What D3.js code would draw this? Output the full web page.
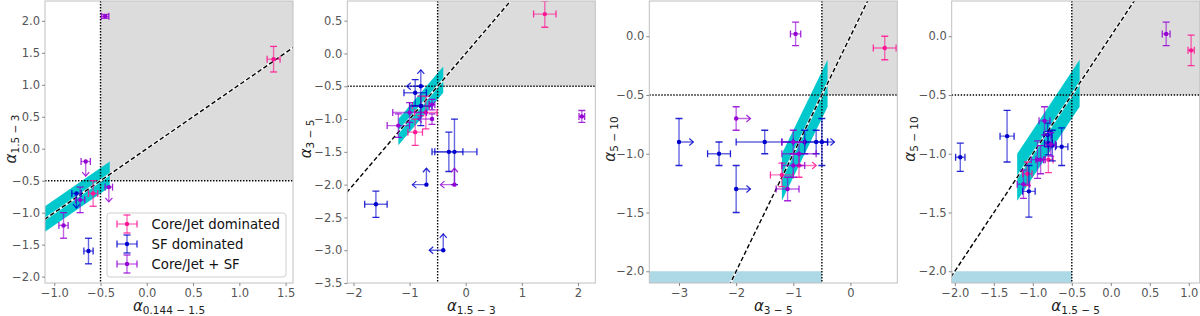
<!DOCTYPE html>
<html>
<head>
<meta charset="utf-8">
<title>spectral index colour-colour</title>
<script src="https://cdn.jsdelivr.net/npm/d3@7"></script>
<style>
  body { margin: 0; background: #fff; }
  text { font-family: 'DejaVu Sans', sans-serif; }
  .tick text { fill: #555; font-size: 11.5px; }
  .tick line { stroke: #888; }
  .domain { display: none; }
</style>
</head>
<body>
<svg id="chart" width="1200" height="316"></svg>
<script>
const groups = ['Core/Jet dominated', 'SF dominated', 'Core/Jet + SF'];
const groupColors = ['#ff1493', '#0000cd', '#9400d3'];

// rows: x, y, xerr, yerr, group, xlim, ylim  (lim 1 = lower limit arrow, -1 = upper limit arrow)
const panel1Points = [
  [1.37, 1.40, 0.07, 0.20, 0, 0, 0],
  [-0.58, -0.70, 0.05, 0.20, 0, 0, 0],
  [-0.76, -0.70, 0.05, 0.23, 1, 0, -1],
  [-0.63, -1.60, 0.05, 0.20, 1, 0, 0],
  [-0.45, 2.07, 0.04, 0.03, 2, 0, 0],
  [-0.66, -0.20, 0.05, 0.23, 2, 0, -1],
  [-0.41, -0.60, 0.04, 0.23, 2, 0, -1],
  [-0.72, -0.80, 0.05, 0.20, 2, 0, 0],
  [-0.90, -1.20, 0.05, 0.20, 2, 0, 0]
];

const panel2Points = [
  [1.41, 0.60, 0.20, 0.20, 0, 0, 0],
  [-0.71, -0.90, 0.20, 0.25, 0, 0, 0],
  [-0.80, -0.80, 0.15, 0.15, 0, 0, 0],
  [-0.90, -1.20, 0.13, 0.20, 0, 0, 0],
  [-0.80, -0.50, 0.25, 0.25, 1, -1, 1],
  [-0.90, -0.60, 0.20, 0.20, 1, 0, 0],
  [-0.80, -0.80, 0.20, 0.30, 1, 0, 0],
  [-0.30, -1.50, 0.25, 0.30, 1, 0, 0],
  [-0.20, -1.50, 0.40, 0.50, 1, 0, 0],
  [-0.70, -2.00, 0.25, 0.25, 1, -1, 1],
  [-1.60, -2.30, 0.20, 0.20, 1, 0, 0],
  [-0.40, -3.00, 0.25, 0.25, 1, -1, 1],
  [2.07, -0.96, 0.05, 0.09, 2, 0, 0],
  [-1.00, -0.90, 0.30, 0.15, 2, 0, 0],
  [-0.60, -1.00, 0.25, 0.08, 2, -1, 0],
  [-0.60, -0.78, 0.05, 0.08, 2, 0, 0],
  [-1.20, -1.10, 0.20, 0.18, 2, 0, 0],
  [-0.20, -2.00, 0.25, 0.25, 2, -1, 1]
];

const panel3Points = [
  [0.60, -0.10, 0.20, 0.10, 0, 0, 0],
  [-0.90, -1.10, 0.30, 0.10, 0, 1, 0],
  [-1.20, -1.18, 0.20, 0.10, 0, 0, 0],
  [-3.00, -0.90, 0.25, 0.20, 1, 1, 0],
  [-2.30, -1.00, 0.20, 0.10, 1, 0, 0],
  [-2.00, -1.30, 0.25, 0.20, 1, 1, 0],
  [-1.50, -0.90, 0.50, 0.10, 1, 0, 0],
  [-0.80, -0.90, 0.40, 0.10, 1, 0, 0],
  [-0.60, -0.90, 0.20, 0.10, 1, 0, 0],
  [-0.50, -0.90, 0.22, 0.20, 1, 1, 0],
  [-0.96, 0.02, 0.09, 0.10, 2, 0, 0],
  [-2.00, -0.70, 0.25, 0.10, 2, 1, 0],
  [-1.00, -0.90, 0.20, 0.10, 2, 0, 0],
  [-0.90, -1.00, 0.30, 0.10, 2, 0, 0],
  [-1.00, -1.10, 0.20, 0.10, 2, 0, 0],
  [-1.10, -1.30, 0.20, 0.10, 2, 0, 0]
];

const panel4Points = [
  [1.03, -0.12, 0.04, 0.13, 0, 0, 0],
  [-0.80, -1.05, 0.06, 0.11, 0, 0, 0],
  [-1.07, -1.17, 0.06, 0.10, 0, 0, 0],
  [-1.93, -1.03, 0.06, 0.12, 1, 0, 0],
  [-1.33, -0.85, 0.09, 0.22, 1, 0, 0],
  [-1.05, -1.32, 0.08, 0.22, 1, 0, 0],
  [-0.81, -0.84, 0.05, 0.10, 1, 0, 0],
  [-0.80, -0.91, 0.05, 0.10, 1, 0, 0],
  [-0.75, -0.93, 0.05, 0.13, 1, 0, 0],
  [-0.63, -0.94, 0.08, 0.16, 1, 0, 0],
  [0.71, 0.02, 0.05, 0.10, 2, 0, 0],
  [-0.85, -0.72, 0.07, 0.12, 2, 0, 0],
  [-0.94, -1.05, 0.08, 0.16, 2, 0, 0],
  [-0.90, -1.05, 0.06, 0.12, 2, 0, 0],
  [-1.12, -1.26, 0.08, 0.12, 2, 0, 0],
  [-0.77, -0.92, 0.06, 0.10, 2, 0, 0]
];

const bandCorners = [[-1.2, -1.0], [-0.4, -0.2], [-0.4, -0.6], [-1.2, -1.4]];  // cyan strip around y = x
const cut = -0.5;        // dotted thresholds / grey quadrant
const floorTop = -2.0;   // light blue strip top

const panel1XTicks = [-1, -0.5, 0, 0.5, 1, 1.5];
const panel1YTicks = [-2, -1.5, -1, -0.5, 0, 0.5, 1, 1.5, 2];
const panel2XTicks = [-2, -1, 0, 1, 2];
const panel2YTicks = [-3.5, -3, -2.5, -2, -1.5, -1, -0.5, 0, 0.5];
const panel3XTicks = [-3, -2, -1, 0];
const panel34YTicks = [-2, -1.5, -1, -0.5, 0];
const panel4XTicks = [-2, -1.5, -1, -0.5, 0, 0.5, 1];

const panels = [
  { left: 45, xDomain: [-1.1, 1.58], yDomain: [-2.1, 2.31], xTicks: panel1XTicks, yTicks: panel1YTicks,
    xFmt: '.1f', xSub: '0.144 − 1.5', ySub: '1.5 − 3', ylabX: 16, points: panel1Points, floor: false, legend: true },
  { left: 347.3, xDomain: [-2.11, 2.31], yDomain: [-3.5, 0.8], xTicks: panel2XTicks, yTicks: panel2YTicks,
    xFmt: 'd', xSub: '1.5 − 3', ySub: '3 − 5', ylabX: 311, points: panel2Points, floor: false },
  { left: 649.3, xDomain: [-3.52, 0.82], yDomain: [-2.1, 0.3], xTicks: panel3XTicks, yTicks: panel34YTicks,
    xFmt: 'd', xSub: '3 − 5', ySub: '5 − 10', ylabX: 615, points: panel3Points, floor: true },
  { left: 951.7, xDomain: [-2.04, 1.14], yDomain: [-2.1, 0.3], xTicks: panel4XTicks, yTicks: panel34YTicks,
    xFmt: '.1f', xSub: '1.5 − 5', ySub: '5 − 10', ylabX: 915, points: panel4Points, floor: true }
];

const svg = d3.select('#chart');
const W = 248, T = 1, B = 283;
const cap = 3.5;

function errorbar(g, cx, cy, x0, x1, y0, y1, lx, ly, color) {
  // horizontal part
  if (x0 !== null) {
    g.append('line').attr('x1', x0).attr('x2', x1).attr('y1', cy).attr('y2', cy)
      .attr('stroke', color).attr('stroke-width', 1.4).attr('stroke-opacity', 0.6);
    if (lx === 0) {
      [x0, x1].forEach(e => g.append('line').attr('x1', e).attr('x2', e).attr('y1', cy - cap).attr('y2', cy + cap)
        .attr('stroke', color).attr('stroke-width', 1.3).attr('stroke-opacity', 0.85));
    } else {
      const e = x1, s = lx > 0 ? -1 : 1;
      g.append('path').attr('d', `M${e + s * 4},${cy - 3.5}L${e},${cy}L${e + s * 4},${cy + 3.5}`)
        .attr('fill', 'none').attr('stroke', color).attr('stroke-width', 1.2).attr('stroke-opacity', 0.85);
    }
  }
  // vertical part
  if (y0 !== null) {
    g.append('line').attr('x1', cx).attr('x2', cx).attr('y1', y0).attr('y2', y1)
      .attr('stroke', color).attr('stroke-width', 1.4).attr('stroke-opacity', 0.6);
    if (ly === 0) {
      [y0, y1].forEach(e => g.append('line').attr('x1', cx - cap).attr('x2', cx + cap).attr('y1', e).attr('y2', e)
        .attr('stroke', color).attr('stroke-width', 1.3).attr('stroke-opacity', 0.85));
    } else {
      const e = y1, s = ly > 0 ? 1 : -1;
      g.append('path').attr('d', `M${cx - 3.5},${e + s * 4}L${cx},${e}L${cx + 3.5},${e + s * 4}`)
        .attr('fill', 'none').attr('stroke', color).attr('stroke-width', 1.2).attr('stroke-opacity', 0.85);
    }
  }
}

panels.forEach((p, i) => {
  const x = d3.scaleLinear().domain(p.xDomain).range([p.left, p.left + W]);
  const y = d3.scaleLinear().domain(p.yDomain).range([B, T]);
  const g = svg.append('g');

  g.append('clipPath').attr('id', 'clip' + i).append('rect')
    .attr('x', p.left).attr('y', T).attr('width', W).attr('height', B - T);
  const plot = g.append('g').attr('clip-path', `url(#clip${i})`);

  // grey quadrant where both indices are flatter than the cut
  plot.append('rect')
    .attr('x', x(cut)).attr('y', y(p.yDomain[1]))
    .attr('width', x(p.xDomain[1]) - x(cut)).attr('height', y(cut) - y(p.yDomain[1]))
    .attr('fill', '#dcdcdc');

  if (p.floor) {
    plot.append('rect')
      .attr('x', x(p.xDomain[0])).attr('y', y(floorTop))
      .attr('width', x(cut) - x(p.xDomain[0])).attr('height', y(p.yDomain[0]) - y(floorTop))
      .attr('fill', '#add8e6');
  }

  plot.append('path')
    .attr('d', d3.line().x(d => x(d[0])).y(d => y(d[1]))(bandCorners) + 'Z')
    .attr('fill', '#00c8cc');

  // dotted thresholds
  plot.append('line').attr('x1', x(cut)).attr('x2', x(cut)).attr('y1', T).attr('y2', B)
    .attr('stroke', '#000').attr('stroke-width', 1.4).attr('stroke-dasharray', '1.4,1.6');
  plot.append('line').attr('x1', p.left).attr('x2', p.left + W).attr('y1', y(cut)).attr('y2', y(cut))
    .attr('stroke', '#000').attr('stroke-width', 1.4).attr('stroke-dasharray', '1.4,1.6');

  // one-to-one line
  const lo = Math.min(p.xDomain[0], p.yDomain[0]), hi = Math.max(p.xDomain[1], p.yDomain[1]);
  plot.append('line').attr('x1', x(lo)).attr('y1', y(lo)).attr('x2', x(hi)).attr('y2', y(hi))
    .attr('stroke', '#fff').attr('stroke-width', 2.4).attr('stroke-opacity', 0.85);
  plot.append('line').attr('x1', x(lo)).attr('y1', y(lo)).attr('x2', x(hi)).attr('y2', y(hi))
    .attr('stroke', '#000').attr('stroke-width', 1.4).attr('stroke-dasharray', '4.5,2.5');

  // points with error bars / limit arrows
  p.points.forEach(d => {
    const [px, py, xe, ye, gi, lx, ly] = d;
    const color = groupColors[gi];
    const cx = x(px), cy = y(py);
    let x0 = null, x1 = null, y0 = null, y1 = null;
    if (xe > 0) {
      if (lx === 0) { x0 = x(px - xe); x1 = x(px + xe); } else { x0 = cx; x1 = x(px + lx * xe); }
    }
    if (ye > 0) {
      if (ly === 0) { y0 = y(py - ye); y1 = y(py + ye); } else { y0 = cy; y1 = y(py + ly * ye); }
    }
    errorbar(plot, cx, cy, x0, x1, y0, y1, lx, ly, color);
    plot.append('circle').attr('cx', cx).attr('cy', cy).attr('r', 2.2).attr('fill', color);
  });

  // frame
  g.append('rect').attr('x', p.left).attr('y', T).attr('width', W).attr('height', B - T)
    .attr('fill', 'none').attr('stroke', '#c0c0c0').attr('stroke-width', 1);

  g.append('g').attr('transform', `translate(0,${B})`)
    .call(d3.axisBottom(x).tickValues(p.xTicks).tickFormat(d3.format(p.xFmt)).tickSize(3).tickPadding(3));
  g.append('g').attr('transform', `translate(${p.left},0)`)
    .call(d3.axisLeft(y).tickValues(p.yTicks).tickFormat(d3.format('.1f')).tickSize(3).tickPadding(2));

  // axis labels
  const xl = g.append('text').attr('x', p.left + W / 2).attr('y', 311).attr('text-anchor', 'middle').attr('fill', '#222');
  xl.append('tspan').attr('font-style', 'italic').attr('font-size', 15).text('α');
  xl.append('tspan').attr('font-size', 10.5).attr('dy', 3).text(p.xSub);

  const yl = g.append('text').attr('transform', `translate(${p.ylabX},${(T + B) / 2 - 3}) rotate(-90)`)
    .attr('text-anchor', 'middle').attr('fill', '#222');
  yl.append('tspan').attr('font-style', 'italic').attr('font-size', 15).text('α');
  yl.append('tspan').attr('font-size', 10.5).attr('dy', 3).text(p.ySub);

  if (p.legend) {
    const lg = g.append('g');
    lg.append('rect').attr('x', 107).attr('y', 213).attr('width', 179).attr('height', 64).attr('rx', 3)
      .attr('fill', '#fff').attr('fill-opacity', 0.85).attr('stroke', '#cfcfcf');
    groups.forEach((name, k) => {
      const cy = 224 + k * 20, cx = 127;
      errorbar(lg, cx, cy, cx - 10, cx + 10, cy - 9, cy + 9, 0, 0, groupColors[k]);
      lg.append('circle').attr('cx', cx).attr('cy', cy).attr('r', 2.2).attr('fill', groupColors[k]);
      lg.append('text').attr('x', 151.5).attr('y', cy + 5).attr('font-size', 13.3).attr('fill', '#111').text(name);
    });
  }
});
</script>
</body>
</html>
